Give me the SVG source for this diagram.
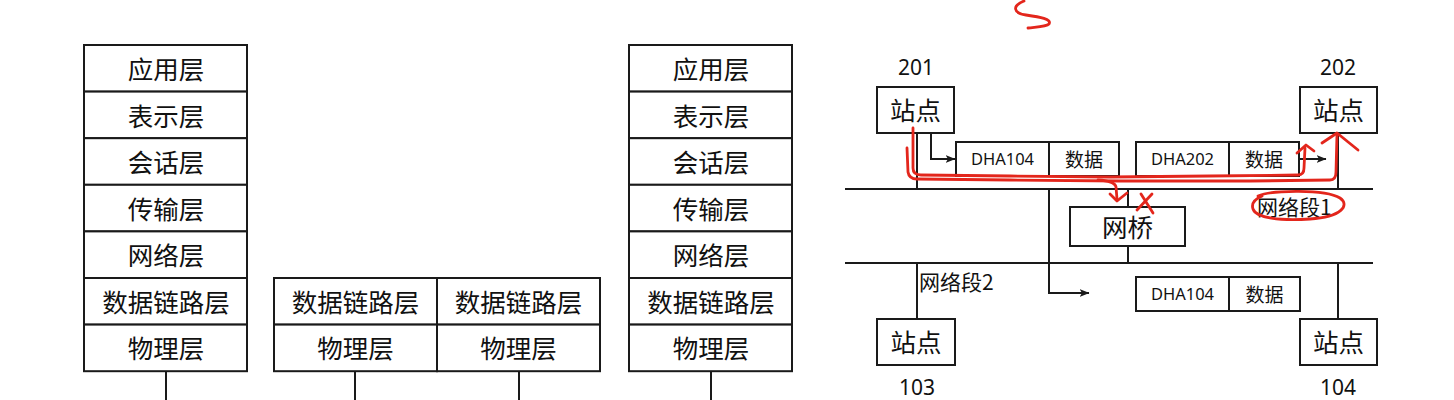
<svg xmlns="http://www.w3.org/2000/svg" width="1454" height="400" viewBox="0 0 1454 400">
<style>
  .box{fill:#fff;stroke:#1a1a1a;stroke-width:2}
  .ln{fill:none;stroke:#1a1a1a;stroke-width:2}
  .lay{font-family:"Noto Sans CJK SC","Noto Sans",sans-serif;font-size:25.5px;fill:#111;text-anchor:middle;dominant-baseline:central}
  .st{font-family:"Noto Sans CJK SC","Noto Sans",sans-serif;font-size:25.5px;fill:#111;text-anchor:middle;dominant-baseline:central}
  .num{font-family:"Noto Sans","Noto Sans CJK SC",sans-serif;font-size:21px;fill:#111;text-anchor:middle;dominant-baseline:central}
  .fr{font-family:"Noto Sans","Noto Sans CJK SC",sans-serif;font-size:16.5px;fill:#111;text-anchor:middle;dominant-baseline:central}
  .frc{font-family:"Noto Sans CJK SC","Noto Sans",sans-serif;font-size:19px;fill:#111;text-anchor:middle;dominant-baseline:central}
  .seg{font-family:"Noto Sans CJK SC","Noto Sans",sans-serif;font-size:21px;fill:#111;dominant-baseline:central}
  .red{fill:none;stroke:#e3261c;stroke-width:2.8;stroke-linecap:round;stroke-linejoin:round}
</style>
<defs>
  <marker id="arr" markerWidth="10" markerHeight="8" refX="9.5" refY="4" orient="auto" markerUnits="userSpaceOnUse">
    <path d="M0,0 L10,4 L0,8 L2.5,4 Z" fill="#1a1a1a"/>
  </marker>
</defs>
<rect width="1454" height="400" fill="#fff"/>

<!-- Left OSI stack -->
<g id="stack-left">
  <rect class="box" x="84" y="45" width="163" height="46.6"/>
  <rect class="box" x="84" y="91.6" width="163" height="46.6"/>
  <rect class="box" x="84" y="138.2" width="163" height="46.6"/>
  <rect class="box" x="84" y="184.8" width="163" height="46.6"/>
  <rect class="box" x="84" y="231.4" width="163" height="46.6"/>
  <rect class="box" x="84" y="278" width="163" height="46.6"/>
  <rect class="box" x="84" y="324.6" width="163" height="46.6"/>
  <text class="lay" x="166" y="67.5">应用层</text>
  <text class="lay" x="166" y="114">表示层</text>
  <text class="lay" x="166" y="160.5">会话层</text>
  <text class="lay" x="166" y="207">传输层</text>
  <text class="lay" x="166" y="253.5">网络层</text>
  <text class="lay" x="166" y="300">数据链路层</text>
  <text class="lay" x="166" y="346.5">物理层</text>
</g>

<!-- Middle bridge stack -->
<g id="stack-bridge">
  <rect class="box" x="274" y="278" width="163" height="46.6"/>
  <rect class="box" x="437" y="278" width="163" height="46.6"/>
  <rect class="box" x="274" y="324.6" width="163" height="46.6"/>
  <rect class="box" x="437" y="324.6" width="163" height="46.6"/>
  <text class="lay" x="355.5" y="300">数据链路层</text>
  <text class="lay" x="518.5" y="300">数据链路层</text>
  <text class="lay" x="355.5" y="346.5">物理层</text>
  <text class="lay" x="518.5" y="346.5">物理层</text>
</g>

<!-- Right OSI stack -->
<g id="stack-right">
  <rect class="box" x="629" y="45" width="163" height="46.6"/>
  <rect class="box" x="629" y="91.6" width="163" height="46.6"/>
  <rect class="box" x="629" y="138.2" width="163" height="46.6"/>
  <rect class="box" x="629" y="184.8" width="163" height="46.6"/>
  <rect class="box" x="629" y="231.4" width="163" height="46.6"/>
  <rect class="box" x="629" y="278" width="163" height="46.6"/>
  <rect class="box" x="629" y="324.6" width="163" height="46.6"/>
  <text class="lay" x="711" y="67.5">应用层</text>
  <text class="lay" x="711" y="114">表示层</text>
  <text class="lay" x="711" y="160.5">会话层</text>
  <text class="lay" x="711" y="207">传输层</text>
  <text class="lay" x="711" y="253.5">网络层</text>
  <text class="lay" x="711" y="300">数据链路层</text>
  <text class="lay" x="711" y="346.5">物理层</text>
</g>

<!-- Connectors -->
<g id="connectors">
  <line class="ln" x1="166" y1="371.2" x2="166" y2="400"/>
  <line class="ln" x1="355" y1="371.2" x2="355" y2="400"/>
  <line class="ln" x1="519" y1="371.2" x2="519" y2="400"/>
  <line class="ln" x1="711" y1="371.2" x2="711" y2="400"/>
  <line class="ln" x1="845" y1="189" x2="1373" y2="189"/>
  <line class="ln" x1="845" y1="263" x2="1373" y2="263"/>
  <line class="ln" x1="917" y1="133" x2="917" y2="189"/>
  <line class="ln" x1="1338" y1="133" x2="1338" y2="189"/>
  <line class="ln" x1="917" y1="263" x2="917" y2="319"/>
  <line class="ln" x1="1338" y1="263" x2="1338" y2="319"/>
  <line class="ln" x1="1128" y1="189" x2="1128" y2="207"/>
  <line class="ln" x1="1128" y1="246" x2="1128" y2="263"/>
  <path class="ln" d="M931,133 V159 H955" marker-end="url(#arr)"/>
  <path class="ln" d="M1299,159 H1326" marker-end="url(#arr)"/>
  <path class="ln" d="M1049,189 V293 H1089" marker-end="url(#arr)"/>
</g>

<!-- Network nodes -->
<g id="station-201">
  <text class="num" x="916" y="67">201</text>
  <rect class="box" x="877" y="87" width="77" height="46"/>
  <text class="st" x="915.5" y="108.5">站点</text>
</g>
<g id="station-202">
  <text class="num" x="1338" y="67">202</text>
  <rect class="box" x="1300" y="87" width="77" height="46"/>
  <text class="st" x="1338.5" y="108.5">站点</text>
</g>
<g id="station-103">
  <rect class="box" x="877" y="319" width="78" height="46"/>
  <text class="st" x="916" y="340.5">站点</text>
  <text class="num" x="917" y="387">103</text>
</g>
<g id="station-104">
  <rect class="box" x="1300" y="319" width="77" height="46"/>
  <text class="st" x="1338.5" y="340.5">站点</text>
  <text class="num" x="1338" y="387">104</text>
</g>
<g id="bridge">
  <rect class="box" x="1070" y="207" width="115" height="39"/>
  <text class="st" x="1127.5" y="225">网桥</text>
</g>
<g id="frame-1">
  <rect class="box" x="956" y="142" width="93" height="34"/>
  <rect class="box" x="1049" y="142" width="70" height="34"/>
  <text class="fr" x="1002.5" y="158.5">DHA104</text>
  <text class="frc" x="1084" y="158">数据</text>
</g>
<g id="frame-2">
  <rect class="box" x="1136" y="142" width="93" height="34"/>
  <rect class="box" x="1229" y="142" width="70" height="34"/>
  <text class="fr" x="1182.5" y="158.5">DHA202</text>
  <text class="frc" x="1264" y="158">数据</text>
</g>
<g id="frame-3">
  <rect class="box" x="1136" y="277" width="93" height="34"/>
  <rect class="box" x="1229" y="277" width="71" height="34"/>
  <text class="fr" x="1182.5" y="293.5">DHA104</text>
  <text class="frc" x="1264.5" y="293">数据</text>
</g>
<g id="segment-labels">
  <text class="seg" x="1257" y="205.5">网络段1</text>
  <text class="seg" x="919" y="280.5">网络段2</text>
</g>

<!-- Red handwritten annotations -->
<g id="annotations">
  <path class="red" d="M1024,1 C1012,6 1013,13 1026,15 C1040,17 1052,19 1049,24 C1046,27 1034,27 1028,28"/>
  <path class="red" d="M913,128 L913,168 Q913,175 921,175 L1010,176 L1110,177 L1210,176 L1298,175 Q1304,175 1304,168 L1305,148"/>
  <path class="red" d="M1297,153 L1306,145 L1314,151"/>
  <path class="red" d="M907,148 L908,172 Q909,179 917,179 L1010,180 L1120,181 L1250,181 L1330,180 Q1336,180 1336,172 L1337,134"/>
  <path class="red" d="M1322,143 L1337,133 L1358,150"/>
  <path class="red" d="M1098,180 Q1115,181 1116,187 L1117,199"/>
  <path class="red" d="M1110,194 L1117,201 L1127,193"/>
  <path class="red" d="M1141,194 L1153,213 M1152,194 L1137,210"/>
  <path class="red" d="M1258,196 C1272,190 1325,189 1340,198 C1350,205 1342,217 1310,219 C1280,221 1256,218 1253,209 C1251,203 1255,199 1262,196"/>
</g>
</svg>
